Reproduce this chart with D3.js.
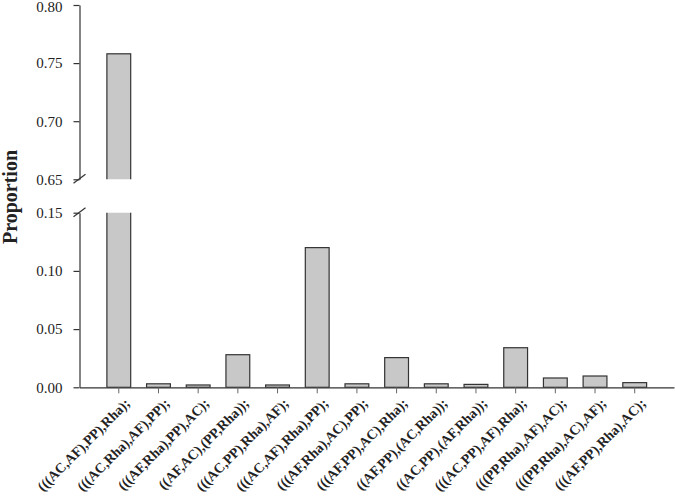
<!DOCTYPE html>
<html>
<head>
<meta charset="utf-8">
<script src="https://cdn.jsdelivr.net/npm/d3@7"></script>
<style>
  body { margin: 0; background: #fff; }
  svg { display: block; }
</style>
</head>
<body>
<div id="chart"></div>
<script>
// topologies and their proportions
var topologies = [
    "(((AC,AF),PP),Rha);", "(((AC,Rha),AF),PP);", "(((AF,Rha),PP),AC);",
    "((AF,AC),(PP,Rha));", "(((AC,PP),Rha),AF);", "(((AC,AF),Rha),PP);",
    "(((AF,Rha),AC),PP);", "(((AF,PP),AC),Rha);", "((AF,PP),(AC,Rha));",
    "((AC,PP),(AF,Rha));", "(((AC,PP),AF),Rha);", "(((PP,Rha),AF),AC);",
    "(((PP,Rha),AC),AF);", "(((AF,PP),Rha),AC);"
];
var proportions = [0.758, 0.003, 0.002, 0.028, 0.002, 0.120, 0.003,
    0.0255, 0.003, 0.0025, 0.034, 0.008, 0.0097, 0.004];

var upperTicks = [0.65, 0.70, 0.75, 0.80];
var lowerTicks = [0.00, 0.05, 0.10, 0.15];

var width = 675, height = 500;
var axisX = 79.5;

var svg = d3.select("#chart").append("svg")
    .attr("width", width)
    .attr("height", height)
    .style("font-family", "'Liberation Serif', 'Times New Roman', serif");

// two panels of the broken axis
var yUpper = d3.scaleLinear().domain([0.65, 0.80]).range([179.3, 5]);
var yLower = d3.scaleLinear().domain([0, 0.15]).range([387.3, 212.7]);

var x = d3.scaleBand()
    .domain(topologies)
    .range([axisX, 674])
    .paddingInner(0.4)
    .paddingOuter(0.69);

var defs = svg.append("defs");
defs.append("clipPath").attr("id", "clip-upper")
    .append("rect").attr("x", 0).attr("y", 0).attr("width", width).attr("height", 179.3);
defs.append("clipPath").attr("id", "clip-lower")
    .append("rect").attr("x", 0).attr("y", 212.7).attr("width", width).attr("height", 175);

// lower bars
svg.append("g")
    .attr("clip-path", "url(#clip-lower)")
    .selectAll("rect")
    .data(proportions)
    .enter().append("rect")
    .attr("x", function (d, i) { return x(topologies[i]); })
    .attr("width", x.bandwidth())
    .attr("y", function (d) { return Math.max(yLower(d), 205); })
    .attr("height", function (d) { return yLower(0) - Math.max(yLower(d), 205); })
    .attr("fill", "#c8c8c8")
    .attr("stroke", "#333")
    .attr("stroke-width", 1.2);

// upper bars (only those reaching the upper range)
svg.append("g")
    .attr("clip-path", "url(#clip-upper)")
    .selectAll("rect")
    .data(proportions.filter(function (d) { return d > 0.65; }))
    .enter().append("rect")
    .attr("x", function (d) { return x(topologies[proportions.indexOf(d)]); })
    .attr("width", x.bandwidth())
    .attr("y", function (d) { return yUpper(d); })
    .attr("height", function (d) { return 190 - yUpper(d); })
    .attr("fill", "#c8c8c8")
    .attr("stroke", "#333")
    .attr("stroke-width", 1.2);

// y axes
function styleAxis(g) {
    g.selectAll(".domain").attr("stroke", "#333").attr("stroke-width", 1.2);
    g.selectAll(".tick line").attr("stroke", "#333").attr("stroke-width", 1.2);
    g.selectAll(".tick text")
        .attr("fill", "#222")
        .style("font-size", "15px")
        .style("font-family", "'Liberation Serif', 'Times New Roman', serif");
}

var upperAxis = svg.append("g")
    .attr("transform", "translate(" + axisX + ",0)")
    .call(d3.axisLeft(yUpper).tickValues(upperTicks).tickFormat(d3.format(".2f"))
        .tickSize(6).tickSizeOuter(0).tickPadding(11))
    .call(styleAxis);

// keep the top label inside the picture
upperAxis.selectAll(".tick text")
    .filter(function (d) { return d === 0.80; })
    .attr("dy", "0.45em");

svg.append("g")
    .attr("transform", "translate(" + axisX + ",0)")
    .call(d3.axisLeft(yLower).tickValues(lowerTicks).tickFormat(d3.format(".2f"))
        .tickSize(6).tickSizeOuter(0).tickPadding(11))
    .call(styleAxis);

// break marks
var breaks = [yUpper(0.65), yLower(0.15)];
svg.selectAll(".break")
    .data(breaks)
    .enter().append("line")
    .attr("class", "break")
    .attr("x1", axisX - 6).attr("y1", function (d) { return d + 4; })
    .attr("x2", axisX + 6).attr("y2", function (d) { return d - 5; })
    .attr("stroke", "#333")
    .attr("stroke-width", 1.2);

// x axis
var xAxis = svg.append("g")
    .attr("transform", "translate(0," + yLower(0) + ")")
    .call(d3.axisBottom(x).tickSize(6).tickSizeOuter(0).tickPadding(4));

xAxis.select(".domain").attr("stroke", "#333").attr("stroke-width", 1.2);
xAxis.selectAll(".tick line").attr("stroke", "#666").attr("stroke-width", 1);
xAxis.selectAll(".tick text")
    .attr("text-anchor", "end")
    .attr("fill", "#222")
    .attr("dy", 0)
    .attr("y", 0)
    .attr("transform", "translate(12,17) rotate(-45)")
    .style("font-size", "14px")
    .style("font-weight", "bold")
    .style("font-family", "'Liberation Serif', 'Times New Roman', serif");

// y label
svg.append("text")
    .attr("transform", "translate(17,197) rotate(-90)")
    .attr("text-anchor", "middle")
    .style("font-size", "20px")
    .style("font-weight", "bold")
    .attr("fill", "#222")
    .text("Proportion");
</script>
</body>
</html>
